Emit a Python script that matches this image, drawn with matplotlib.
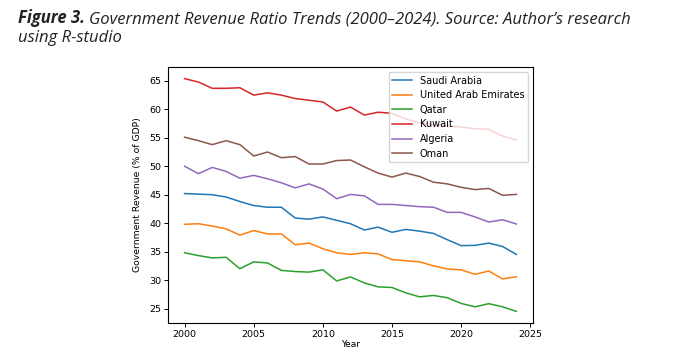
import matplotlib
matplotlib.use("Agg")
import matplotlib.pyplot as plt

years = list(range(2000, 2025))

saudi = [45.2, 45.1, 45.0, 44.6, 43.8, 43.1, 42.8, 42.8, 40.9, 40.7, 41.1, 40.5, 39.9,
         38.8, 39.3, 38.4, 38.9, 38.6, 38.2, 37.1, 36.05, 36.1, 36.5, 35.9, 34.5]
uae = [39.8, 39.9, 39.5, 39.0, 37.9, 38.7, 38.1, 38.1, 36.2, 36.5, 35.5, 34.8, 34.5,
       34.8, 34.6, 33.6, 33.4, 33.2, 32.5, 31.95, 31.8, 31.0, 31.6, 30.2, 30.6]
qatar = [34.8, 34.3, 33.9, 34.0, 32.0, 33.2, 33.0, 31.7, 31.5, 31.4, 31.8, 29.85, 30.55,
         29.5, 28.8, 28.7, 27.75, 27.05, 27.3, 26.9, 25.9, 25.3, 25.85, 25.3, 24.5]
kuwait = [65.4, 64.8, 63.7, 63.7, 63.8, 62.5, 62.9, 62.5, 61.9, 61.6, 61.3, 59.7, 60.4,
          59.0, 59.5, 59.3, 58.3, 57.6, 57.3, 57.1, 56.9, 56.6, 56.5, 55.3, 54.6]
algeria = [50.0, 48.7, 49.8, 49.1, 47.9, 48.4, 47.8, 47.1, 46.2, 46.9, 46.0, 44.3, 45.05,
           44.8, 43.3, 43.3, 43.1, 42.9, 42.8, 41.9, 41.9, 41.1, 40.2, 40.6, 39.85]
oman = [55.1, 54.5, 53.8, 54.5, 53.8, 51.8, 52.5, 51.5, 51.7, 50.4, 50.4, 51.0, 51.1,
        49.9, 48.8, 48.1, 48.8, 48.2, 47.2, 46.9, 46.3, 45.9, 46.1, 44.9, 45.05]

series = [("Saudi Arabia", saudi), ("United Arab Emirates", uae), ("Qatar", qatar),
          ("Kuwait", kuwait), ("Algeria", algeria), ("Oman", oman)]

fig = plt.figure(figsize=(6.82, 3.5), dpi=100)
ax = fig.add_axes([168 / 682, 1 - 323 / 350, (533 - 168) / 682, (323 - 67) / 350])

for name, vals in series:
    ax.plot(years, vals, label=name, linewidth=1.1)

ax.set_xlabel("Year", fontsize=6.5, labelpad=1)
ax.set_ylabel("Government Revenue (% of GDP)", fontsize=6.7, labelpad=5)
ax.tick_params(labelsize=6.8, length=3, width=0.7, pad=2)
ax.set_xticks([2000, 2005, 2010, 2015, 2020, 2025])
for s in ax.spines.values():
    s.set_linewidth(0.8)
ax.legend(loc="upper right", fontsize=7, handlelength=2.0, labelspacing=0.47,
          borderpad=0.4)

# caption: bold italic "Figure 3." followed by italic text
t1 = fig.text(18 / 682, 1 - 23 / 350, "Figure 3.", fontsize=12, fontstyle="italic",
              fontweight="bold", family="Open Sans", color="#222222", va="baseline")
fig.canvas.draw()
bb = t1.get_window_extent()
fig.text((bb.x1 + 4) / 682, 1 - 23 / 350,
         "Government Revenue Ratio Trends (2000\u20132024). Source: Author\u2019s research",
         fontsize=12, fontstyle="italic", family="Open Sans", color="#222222",
         va="baseline")
fig.text(18 / 682, 1 - 42 / 350, "using R-studio", fontsize=12, fontstyle="italic",
         family="Open Sans", color="#222222", va="baseline")

fig.savefig("out.png", dpi=100)
